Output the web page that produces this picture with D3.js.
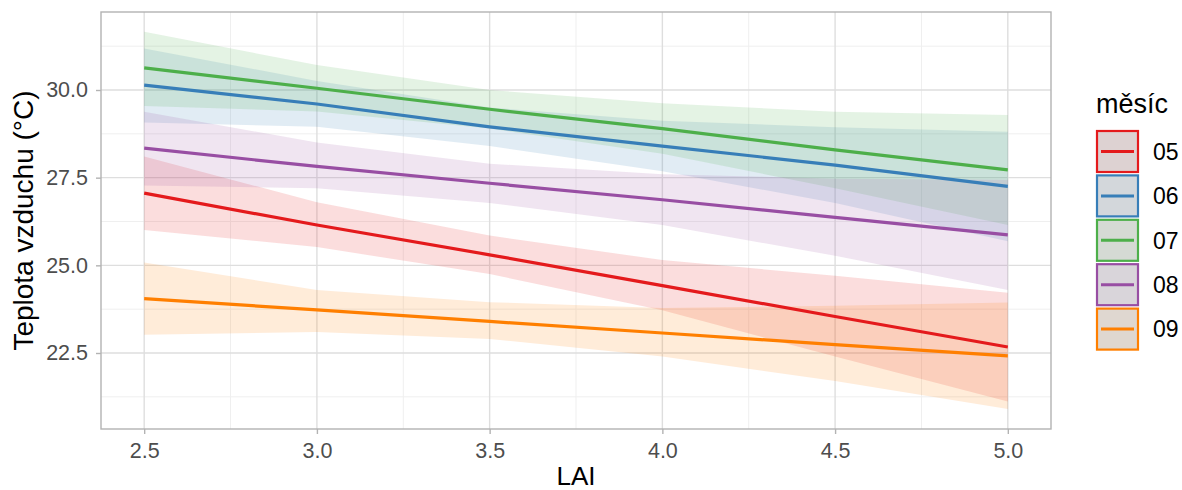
<!DOCTYPE html>
<html>
<head>
<meta charset="utf-8">
<script src="https://cdn.jsdelivr.net/npm/d3@7"></script>
<style>
  html, body { margin: 0; padding: 0; background: #ffffff; }
  svg { display: block; font-family: "Liberation Sans", Arial, sans-serif; }
</style>
</head>
<body>
<svg id="chart" width="1182" height="490"></svg>
<script>
// ---- data ----
const lai = [2.5, 3.0, 3.5, 4.0, 4.5, 5.0];
const months = ["05", "06", "07", "08", "09"];
const colors = ["#E41A1C", "#377EB8", "#4DAF4A", "#984EA3", "#FF7F00"];

const fit05 = [27.06, 26.15, 25.30, 24.42, 23.54, 22.67];
const lo05  = [26.01, 25.52, 24.75, 23.72, 22.40, 21.12];
const hi05  = [28.10, 26.80, 25.85, 25.15, 24.70, 24.22];

const fit06 = [30.14, 29.60, 28.95, 28.40, 27.86, 27.25];
const lo06  = [29.07, 28.95, 28.40, 27.68, 26.78, 25.69];
const hi06  = [31.18, 30.26, 29.50, 29.12, 28.94, 28.81];

const fit07 = [30.63, 30.05, 29.45, 28.90, 28.29, 27.72];
const lo07  = [29.54, 29.39, 28.90, 28.18, 27.20, 26.15];
const hi07  = [31.66, 30.71, 30.00, 29.62, 29.38, 29.29];

const fit08 = [28.34, 27.82, 27.34, 26.87, 26.37, 25.87];
const lo08  = [27.28, 27.20, 26.78, 26.15, 25.27, 24.30];
const hi08  = [29.38, 28.50, 27.90, 27.60, 27.47, 27.44];

const fit09 = [24.05, 23.73, 23.40, 23.07, 22.74, 22.42];
const lo09  = [23.02, 23.10, 22.90, 22.40, 21.70, 20.90];
const hi09  = [25.08, 24.30, 23.95, 23.78, 23.85, 23.94];

const xTicks = [2.5, 3.0, 3.5, 4.0, 4.5, 5.0];
const xMinor = [2.75, 3.25, 3.75, 4.25, 4.75];
const yTicks = [22.5, 25.0, 27.5, 30.0];
const yMinor = [21.25, 23.75, 26.25, 28.75, 31.25];

const xTitle = "LAI";
const yTitle = "Teplota vzduchu (°C)";
const legendTitle = "měsíc";

const fits = [fit05, fit06, fit07, fit08, fit09];
const los = [lo05, lo06, lo07, lo08, lo09];
const his = [hi05, hi06, hi07, hi08, hi09];

const series = months.map((m, i) => ({
  name: m, color: colors[i],
  pts: lai.map((x, j) => ({ x, y: fits[i][j], lo: los[i][j], hi: his[i][j] }))
}));

// ---- layout ----
const P = { left: 101, right: 1051, top: 12, bottom: 429 };
const x = d3.scaleLinear().domain([2.375, 5.125]).range([P.left, P.right]);
const y = d3.scaleLinear().domain([20.333, 32.224]).range([P.bottom, P.top]);

const svg = d3.select("#chart");
const FONT = "'Liberation Sans', Arial, sans-serif";

svg.append("rect").attr("x", P.left).attr("y", P.top)
  .attr("width", P.right - P.left).attr("height", P.bottom - P.top)
  .attr("fill", "#ffffff");

const grid = svg.append("g");
grid.selectAll(".ymin").data(yMinor).join("line")
  .attr("x1", P.left).attr("x2", P.right)
  .attr("y1", d => y(d)).attr("y2", d => y(d))
  .attr("stroke", "#efefef").attr("stroke-width", 1);
grid.selectAll(".xmin").data(xMinor).join("line")
  .attr("y1", P.top).attr("y2", P.bottom)
  .attr("x1", d => x(d)).attr("x2", d => x(d))
  .attr("stroke", "#efefef").attr("stroke-width", 1);
grid.selectAll(".ymaj").data(yTicks).join("line")
  .attr("x1", P.left).attr("x2", P.right)
  .attr("y1", d => y(d)).attr("y2", d => y(d))
  .attr("stroke", "#dedede").attr("stroke-width", 1.4);
grid.selectAll(".xmaj").data(xTicks).join("line")
  .attr("y1", P.top).attr("y2", P.bottom)
  .attr("x1", d => x(d)).attr("x2", d => x(d))
  .attr("stroke", "#dedede").attr("stroke-width", 1.4);

// ribbons
const area = d3.area().x(d => x(d.x)).y0(d => y(d.lo)).y1(d => y(d.hi));
svg.append("g").selectAll("path").data(series).join("path")
  .attr("d", d => area(d.pts))
  .attr("fill", d => d.color).attr("fill-opacity", 0.15);

// lines
const line = d3.line().x(d => x(d.x)).y(d => y(d.y));
svg.append("g").selectAll("path").data(series).join("path")
  .attr("d", d => line(d.pts))
  .attr("fill", "none").attr("stroke", d => d.color)
  .attr("stroke-width", 3.2).attr("stroke-linejoin", "round");

// panel border
svg.append("rect").attr("x", P.left).attr("y", P.top)
  .attr("width", P.right - P.left).attr("height", P.bottom - P.top)
  .attr("fill", "none").attr("stroke", "#b3b3b3").attr("stroke-width", 1.4);

// axes
const xAxis = d3.axisBottom(x).tickValues(xTicks).tickFormat(d3.format(".1f")).tickSize(5).tickPadding(9);
const gx = svg.append("g").attr("transform", `translate(0,${P.bottom})`).call(xAxis);
gx.select(".domain").remove();
gx.selectAll(".tick line").attr("stroke", "#b3b3b3").attr("stroke-width", 1.4);
gx.selectAll(".tick text").attr("fill", "#4d4d4d").style("font-size", "21.5px").style("font-family", FONT);

const yAxis = d3.axisLeft(y).tickValues(yTicks).tickFormat(d3.format(".1f")).tickSize(5).tickPadding(8);
const gy = svg.append("g").attr("transform", `translate(${P.left},0)`).call(yAxis);
gy.select(".domain").remove();
gy.selectAll(".tick line").attr("stroke", "#b3b3b3").attr("stroke-width", 1.4);
gy.selectAll(".tick text").attr("fill", "#4d4d4d").style("font-size", "21.5px").style("font-family", FONT);

// axis titles
svg.append("text").attr("x", (P.left + P.right) / 2).attr("y", 485)
  .attr("text-anchor", "middle").attr("fill", "#000").style("font-size", "26px")
  .text(xTitle);
svg.append("text")
  .attr("transform", `translate(33,${(P.top + P.bottom) / 2}) rotate(-90)`)
  .attr("text-anchor", "middle").attr("fill", "#000").style("font-size", "28px")
  .text(yTitle);

// legend
const lg = svg.append("g");
lg.append("text").attr("x", 1096).attr("y", 113).attr("fill", "#000")
  .style("font-size", "27px").text(legendTitle);
const keyX = 1097, keyY0 = 131, keyW = 41, keyH = 41, keyStep = 44.4;
const items = lg.selectAll(".item").data(series).join("g")
  .attr("transform", (d, i) => `translate(${keyX},${keyY0 + i * keyStep})`);
items.append("rect").attr("width", keyW).attr("height", keyH).attr("fill", "#dedede");
items.append("rect").attr("width", keyW).attr("height", keyH)
  .attr("fill", d => d.color).attr("fill-opacity", 0.06)
  .attr("stroke", d => d.color).attr("stroke-width", 2.2);
items.append("line").attr("x1", 4).attr("x2", keyW - 4)
  .attr("y1", keyH / 2).attr("y2", keyH / 2)
  .attr("stroke", d => d.color).attr("stroke-width", 3);
items.append("text").attr("x", 56).attr("y", keyH / 2).attr("dy", "0.36em")
  .attr("fill", "#000").style("font-size", "23px").text(d => d.name);
</script>
</body>
</html>
